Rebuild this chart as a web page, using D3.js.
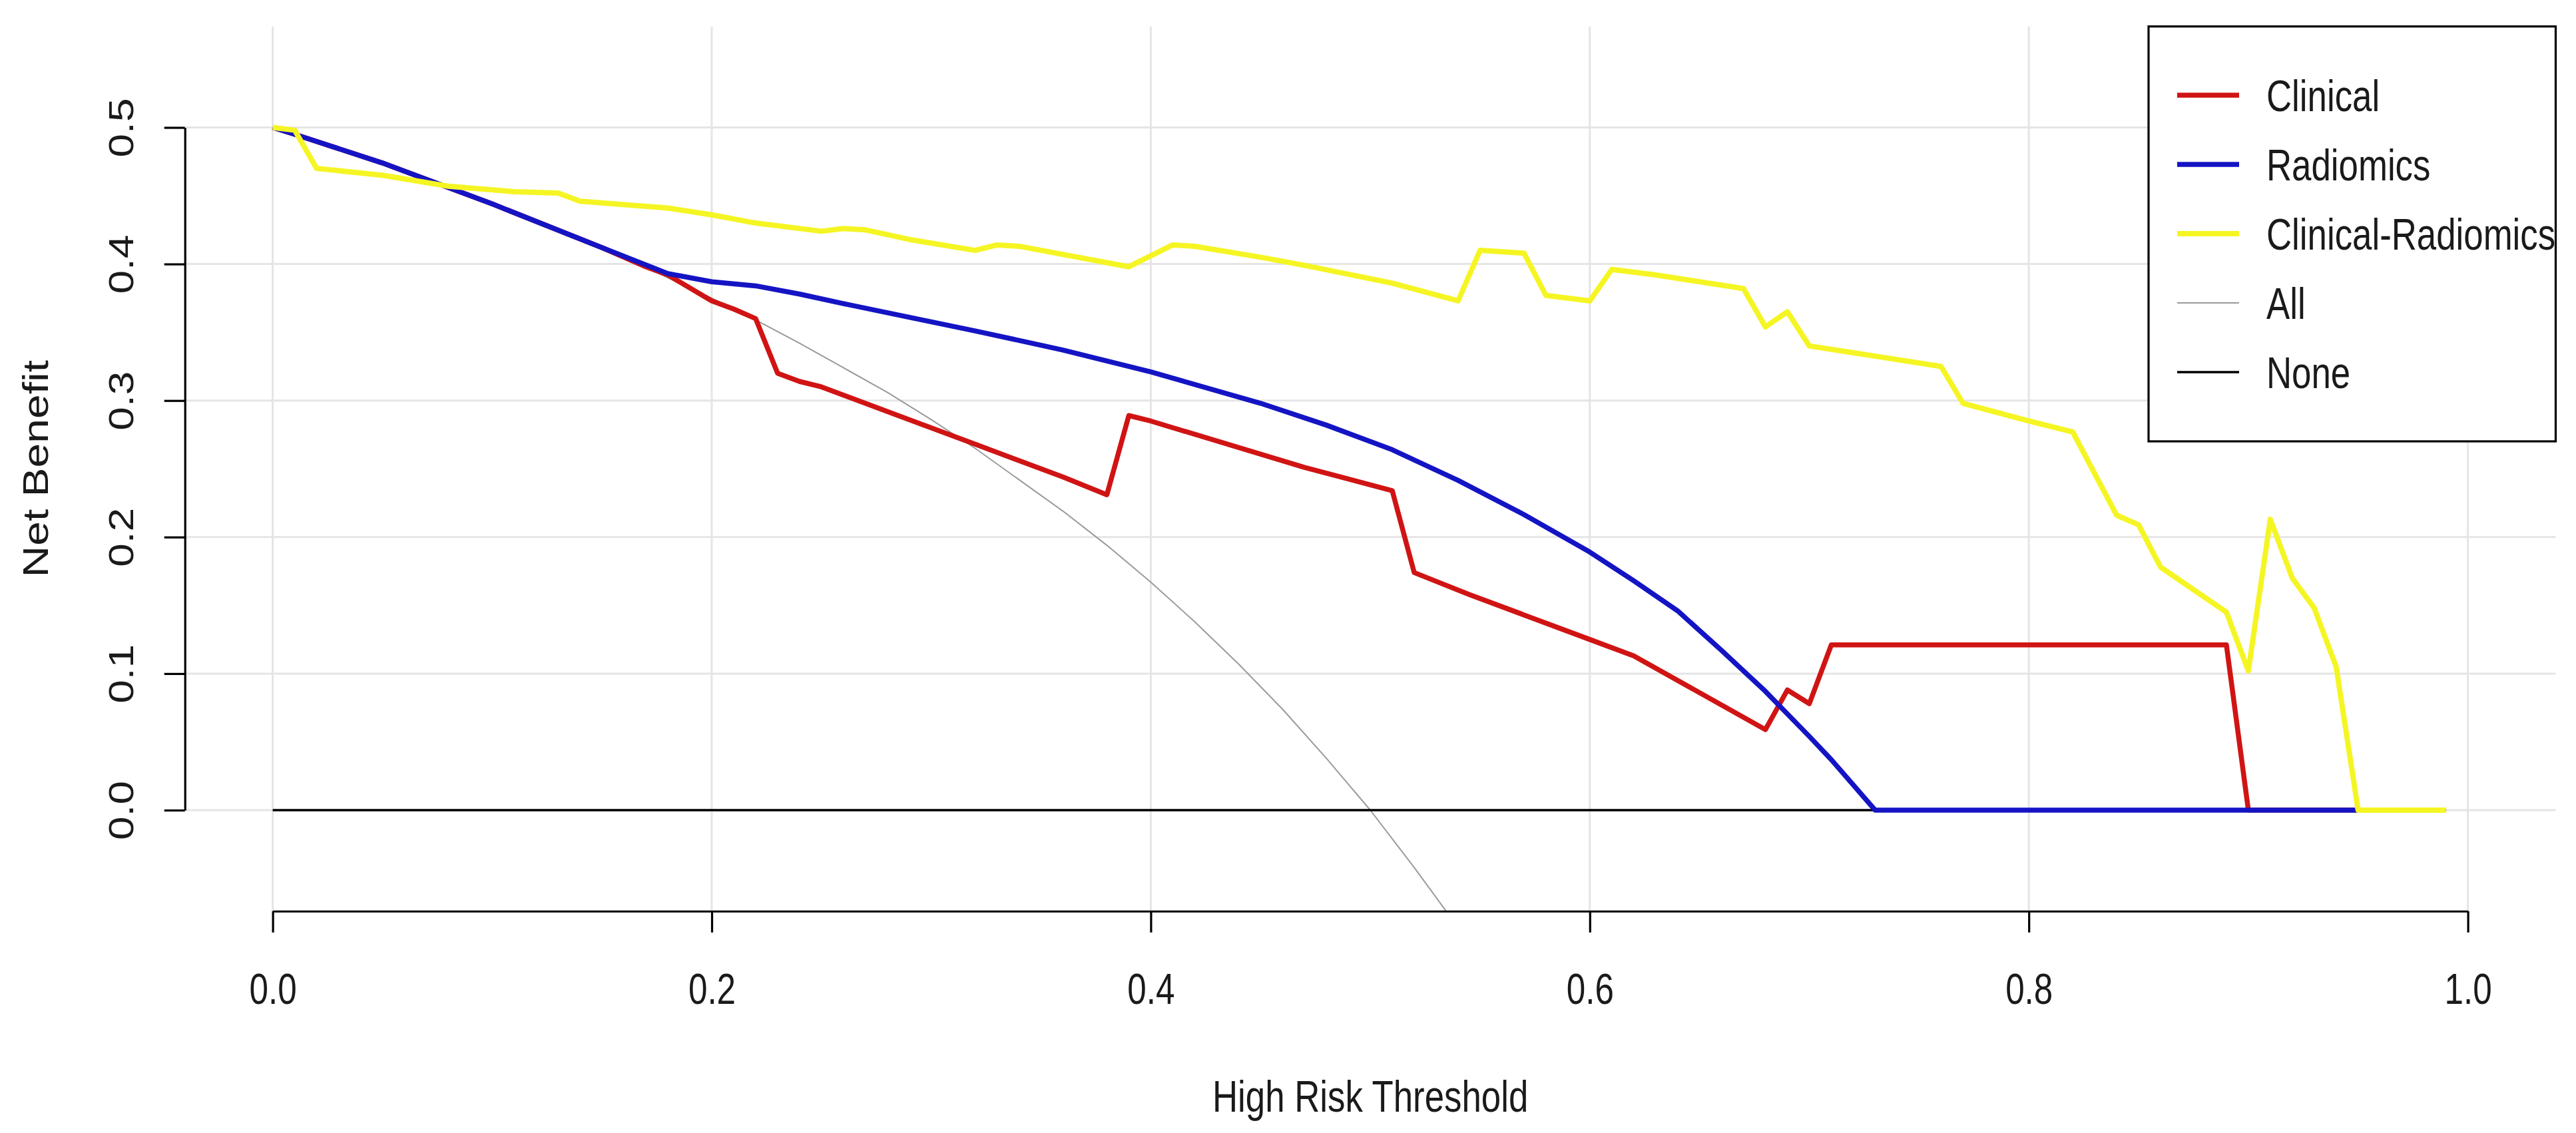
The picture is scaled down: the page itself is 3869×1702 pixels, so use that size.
<!DOCTYPE html>
<html>
<head>
<meta charset="utf-8">
<script src="https://cdn.jsdelivr.net/npm/d3@7"></script>
<style>
html,body{margin:0;padding:0;background:#ffffff;}
svg{display:block;}
text{font-family:"Liberation Sans",Arial,"DejaVu Sans",sans-serif;fill:#1a1a1a;}
</style>
</head>
<body>
<svg id="chart" width="3869" height="1702"></svg>
<script>
// ---------------- data ----------------
const xTicks = [0, 0.2, 0.4, 0.6, 0.8, 1.0];
const yTicks = [0, 0.1, 0.2, 0.3, 0.4, 0.5];
const seriesNames = ["Clinical", "Radiomics", "Clinical-Radiomics", "All", "None"];

const thresholdsClinical = [0, 0.01, 0.05, 0.10, 0.15, 0.17, 0.18, 0.20, 0.21, 0.22, 0.23, 0.24, 0.25, 0.29, 0.32, 0.36, 0.38, 0.39, 0.40, 0.47, 0.51, 0.52, 0.545, 0.60, 0.62, 0.68, 0.69, 0.70, 0.71, 0.89, 0.90, 0.95];
const netBenefitClinical = [0.500, 0.495, 0.474, 0.444, 0.412, 0.398, 0.392, 0.373, 0.367, 0.360, 0.320, 0.314, 0.310, 0.286, 0.268, 0.244, 0.231, 0.289, 0.285, 0.251, 0.234, 0.174, 0.158, 0.125, 0.113, 0.059, 0.088, 0.078, 0.121, 0.121, 0.000, 0.000];

const thresholdsRadiomics = [0, 0.01, 0.05, 0.10, 0.15, 0.18, 0.20, 0.22, 0.24, 0.26, 0.29, 0.32, 0.36, 0.40, 0.45, 0.48, 0.51, 0.54, 0.57, 0.60, 0.62, 0.64, 0.66, 0.68, 0.70, 0.71, 0.73, 0.95];
const netBenefitRadiomics = [0.500, 0.495, 0.474, 0.444, 0.412, 0.393, 0.387, 0.384, 0.378, 0.371, 0.361, 0.351, 0.337, 0.321, 0.298, 0.282, 0.264, 0.2415, 0.2165, 0.189, 0.168, 0.146, 0.117, 0.087, 0.054, 0.037, 0.000, 0.000];

const thresholdsCombined = [0, 0.01, 0.02, 0.05, 0.08, 0.11, 0.13, 0.14, 0.18, 0.20, 0.22, 0.25, 0.26, 0.27, 0.29, 0.32, 0.33, 0.34, 0.39, 0.41, 0.42, 0.45, 0.47, 0.51, 0.54, 0.55, 0.57, 0.58, 0.60, 0.61, 0.63, 0.67, 0.68, 0.69, 0.70, 0.76, 0.77, 0.80, 0.82, 0.84, 0.85, 0.86, 0.89, 0.90, 0.91, 0.92, 0.93, 0.94, 0.95, 0.99];
const netBenefitCombined = [0.500, 0.498, 0.470, 0.465, 0.457, 0.453, 0.452, 0.446, 0.441, 0.436, 0.430, 0.424, 0.426, 0.425, 0.418, 0.410, 0.414, 0.413, 0.398, 0.414, 0.413, 0.405, 0.399, 0.386, 0.373, 0.410, 0.408, 0.377, 0.373, 0.396, 0.392, 0.382, 0.354, 0.365, 0.340, 0.325, 0.298, 0.285, 0.277, 0.216, 0.209, 0.178, 0.145, 0.102, 0.213, 0.170, 0.148, 0.105, 0.000, 0.000];

const thresholdsAll = [0, 0.04, 0.08, 0.12, 0.16, 0.20, 0.22, 0.24, 0.26, 0.28, 0.30, 0.32, 0.34, 0.36, 0.38, 0.40, 0.42, 0.44, 0.46, 0.48, 0.50, 0.52, 0.535];
const netBenefitAll = [0.500, 0.479, 0.457, 0.432, 0.405, 0.375, 0.359, 0.342, 0.324, 0.306, 0.286, 0.265, 0.242, 0.219, 0.194, 0.167, 0.138, 0.107, 0.074, 0.038, 0.000, -0.042, -0.075];

const thresholdsNone = [0, 0.99];
const netBenefitNone = [0, 0];

// ---------------- layout ----------------
const svg = d3.select("#chart");
const squeeze = 0.8;          // horizontal text compression seen in the reference
const x = d3.scaleLinear().domain([0, 1]).range([409.6, 3706.6]);
const y = d3.scaleLinear().domain([0, 0.5]).range([1217, 191.5]);
const plotLeft = x(-0.04), plotRight = x(1.04), plotTop = y(0.574), plotBottom = y(-0.074);

svg.append("rect").attr("width", 3869).attr("height", 1702).attr("fill", "#ffffff");

// grid
const grid = svg.append("g").attr("stroke", "#e5e5e5").attr("stroke-width", 3);
grid.selectAll("line.v").data(xTicks).join("line").attr("class", "v")
  .attr("x1", d => x(d)).attr("x2", d => x(d)).attr("y1", plotTop).attr("y2", plotBottom);
grid.selectAll("line.h").data(yTicks).join("line").attr("class", "h")
  .attr("x1", plotLeft).attr("x2", plotRight).attr("y1", d => y(d)).attr("y2", d => y(d));

// clip
svg.append("clipPath").attr("id", "plotclip").append("rect")
  .attr("x", plotLeft).attr("y", plotTop).attr("width", plotRight - plotLeft).attr("height", plotBottom - plotTop);

const series = [
  {name: "All", xs: thresholdsAll, ys: netBenefitAll, color: "#9a9a9a", width: 2},
  {name: "None", xs: thresholdsNone, ys: netBenefitNone, color: "#000000", width: 3.5},
  {name: "Clinical", xs: thresholdsClinical, ys: netBenefitClinical, color: "#d01414", width: 7.5},
  {name: "Radiomics", xs: thresholdsRadiomics, ys: netBenefitRadiomics, color: "#1414c4", width: 7.5},
  {name: "Clinical-Radiomics", xs: thresholdsCombined, ys: netBenefitCombined, color: "#f5f524", width: 8}
];

const line = d3.line().x(d => x(d[0])).y(d => y(d[1]));
const curves = svg.append("g").attr("clip-path", "url(#plotclip)");
series.forEach(s => {
  curves.append("path")
    .datum(s.xs.map((t, i) => [t, s.ys[i]]))
    .attr("fill", "none")
    .attr("stroke", s.color)
    .attr("stroke-width", s.width)
    .attr("stroke-linejoin", "round")
    .attr("d", line);
});

// axes
const yAxis = svg.append("g").attr("transform", `translate(${plotLeft},0)`)
  .call(d3.axisLeft(y).tickValues(yTicks).tickFormat(d3.format(".1f")).tickSize(31).tickSizeOuter(0));
const xAxis = svg.append("g").attr("transform", `translate(0,${plotBottom})`)
  .call(d3.axisBottom(x).tickValues(xTicks).tickFormat(d3.format(".1f")).tickSize(32).tickSizeOuter(0));
[yAxis, xAxis].forEach(a => {
  a.selectAll("path.domain").attr("stroke", "#000").attr("stroke-width", 3.2);
  a.selectAll(".tick line").attr("stroke", "#000").attr("stroke-width", 3.2);
  a.selectAll(".tick text").attr("font-size", 64).attr("fill", "#1a1a1a")
    .attr("font-family", '"Liberation Sans",Arial,sans-serif');
});
yAxis.selectAll(".tick text")
  .attr("x", null).attr("dy", null).attr("text-anchor", "middle")
  .attr("transform", `translate(${200 - plotLeft},0) scale(${squeeze},1) rotate(-90)`);
xAxis.selectAll(".tick text")
  .attr("y", null).attr("dy", null).attr("text-anchor", "middle")
  .attr("transform", `translate(0,${1508 - plotBottom}) scale(${squeeze},1)`);

// axis titles
svg.append("text").attr("text-anchor", "middle").attr("font-size", 66)
  .attr("transform", `translate(${(plotLeft + plotRight) / 2},1670) scale(${squeeze},1)`)
  .text("High Risk Threshold");
svg.append("text").attr("text-anchor", "middle").attr("font-size", 66)
  .attr("transform", `translate(72,${(plotTop + plotBottom) / 2}) scale(${squeeze},1) rotate(-90)`)
  .text("Net Benefit");

// legend
const legendOrder = seriesNames.map(n => series.find(s => s.name === n));
const lg = svg.append("g");
lg.append("rect").attr("x", 3227).attr("y", plotTop).attr("width", plotRight - 3227).attr("height", 663 - plotTop)
  .attr("fill", "#ffffff").attr("stroke", "#000").attr("stroke-width", 3.2);
legendOrder.forEach((s, i) => {
  const ry = 143 + 104 * i;
  lg.append("line").attr("x1", 3270).attr("x2", 3363).attr("y1", ry).attr("y2", ry)
    .attr("stroke", s.color).attr("stroke-width", s.width);
  lg.append("text").attr("font-size", 66)
    .attr("transform", `translate(3404,${ry + 24}) scale(${squeeze},1)`)
    .text(s.name);
});
</script>
</body>
</html>
